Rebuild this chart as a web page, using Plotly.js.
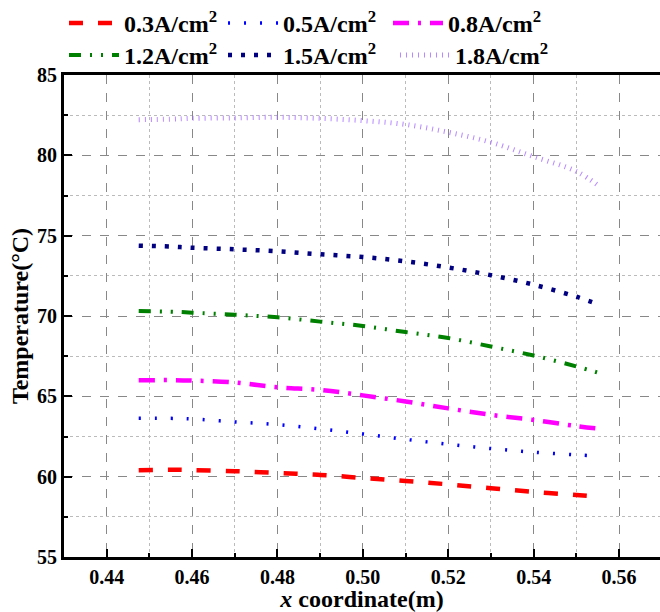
<!DOCTYPE html>
<html>
<head>
<meta charset="utf-8">
<script src="https://cdn.plot.ly/plotly-3.0.1.min.js"></script>
<style>html,body{margin:0;padding:0;background:#fff;}#chart{width:660px;height:612px;}</style>
</head>
<body>
<div id="chart"></div>
<script>
var xCoord = [0.4475, 0.455, 0.46, 0.47, 0.48, 0.49, 0.50, 0.51, 0.52, 0.53, 0.54, 0.55, 0.5555];
var t03 = [60.40, 60.43, 60.41, 60.34, 60.23, 60.11, 59.92, 59.73, 59.52, 59.28, 59.05, 58.86, 58.74];
var t05 = [63.64, 63.63, 63.59, 63.41, 63.24, 62.97, 62.66, 62.32, 62.02, 61.75, 61.52, 61.36, 61.28];
var t08 = [66.00, 66.01, 65.98, 65.86, 65.56, 65.40, 65.06, 64.68, 64.25, 63.85, 63.53, 63.15, 62.98];
var t12 = [70.31, 70.27, 70.21, 70.08, 69.92, 69.65, 69.38, 69.00, 68.63, 68.10, 67.54, 66.86, 66.44];
var t15 = [74.38, 74.32, 74.25, 74.15, 74.03, 73.84, 73.67, 73.40, 73.02, 72.54, 71.95, 71.20, 70.69];
var t18 = [82.22, 82.25, 82.30, 82.33, 82.37, 82.30, 82.16, 81.92, 81.44, 80.81, 79.92, 79.00, 78.05];
var seriesNames = ['0.3A/cm<sup>2</sup>', '0.5A/cm<sup>2</sup>', '0.8A/cm<sup>2</sup>',
                   '1.2A/cm<sup>2</sup>', '1.5A/cm<sup>2</sup>', '1.8A/cm<sup>2</sup>'];
var seriesValues = [t03, t05, t08, t12, t15, t18];
var colors = ['#ff0000', '#0000ff', '#ff00ff', '#008000', '#000080', 'rgba(165,105,255,0.8)'];
var dashes = ['14px,15px', '2px,14px', '16px,9px,3px,9px', '12px,9px,2px,9px,2px,9px', '4px,9px', '1px,5px'];
var widths = [4.5, 3.5, 4.5, 4, 4.5, 5];

var traces = seriesValues.map(function (v, i) {
  return {
    x: xCoord, y: v, type: 'scatter', mode: 'lines', name: seriesNames[i],
    legend: i === 0 ? 'legend' : 'legend' + (i + 1),
    line: {color: colors[i], width: widths[i], dash: dashes[i], shape: 'spline'}
  };
});

var fontFam = 'Liberation Serif';
function legendAt(xp, yp) {
  return {
    orientation: 'v', x: xp, xanchor: 'left', y: yp, yanchor: 'top',
    itemwidth: 50, tracegroupgap: 0, traceorder: 'normal',
    font: {family: fontFam, size: 24, weight: 'bold', color: '#000'},
    bgcolor: 'rgba(0,0,0,0)', borderwidth: 0
  };
}
var row1 = 1.1535, row2 = 1.0871;
var layout = {
  width: 660, height: 612,
  margin: {l: 64, r: 0, t: 75, b: 55},
  paper_bgcolor: '#fff', plot_bgcolor: '#fff',
  font: {family: fontFam, color: '#000'},
  showlegend: true,
  legend: legendAt(0.0, row1),
  legend2: legendAt(0.2668, row1),
  legend3: legendAt(0.5436, row1),
  legend4: legendAt(0.0, row2),
  legend5: legendAt(0.2668, row2),
  legend6: legendAt(0.5554, row2),
  xaxis: {
    range: [0.43, 0.5696], dtick: 0.02, tick0: 0.44, tickformat: '.2f',
    showline: true, linecolor: '#000', linewidth: 3, mirror: true,
    ticks: 'inside', ticklen: 8, tickwidth: 2, tickcolor: '#000',
    showgrid: true, gridcolor: '#888', griddash: 'dash', gridwidth: 1,
    zeroline: false,
    tickfont: {family: fontFam, size: 20, weight: 'bold', color: '#000'},
    minor: {dtick: 0.01, tick0: 0.44, ticks: 'inside', ticklen: 4, tickwidth: 2, tickcolor: '#000',
            showgrid: true, gridcolor: '#bbb', griddash: 'dot', gridwidth: 1},
    title: {text: '<i>x</i> coordinate(m)', standoff: 0,
            font: {family: fontFam, size: 24, weight: 'bold', color: '#000'}}
  },
  yaxis: {
    range: [55, 85], dtick: 5, tick0: 55,
    showline: true, linecolor: '#000', linewidth: 3, mirror: false,
    ticks: 'inside', ticklen: 8, tickwidth: 2, tickcolor: '#000',
    showgrid: true, gridcolor: '#888', griddash: 'dash', gridwidth: 1,
    zeroline: false,
    tickfont: {family: fontFam, size: 20, weight: 'bold', color: '#000'},
    minor: {dtick: 2.5, tick0: 55, ticks: 'inside', ticklen: 4, tickwidth: 2, tickcolor: '#000',
            showgrid: true, gridcolor: '#bbb', griddash: 'dot', gridwidth: 1},
    title: {text: 'Temperature(°C)', standoff: 2,
            font: {family: fontFam, size: 24, weight: 'bold', color: '#000'}}
  }
};
Plotly.newPlot('chart', traces, layout, {displayModeBar: false, staticPlot: true});
</script>
</body>
</html>
